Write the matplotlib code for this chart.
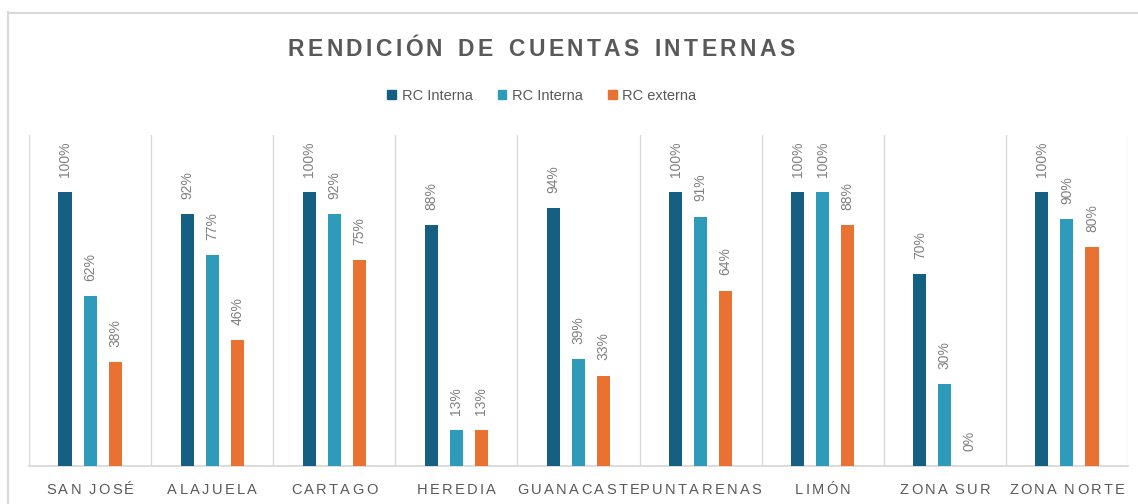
import numpy as np
import matplotlib
matplotlib.use("Agg")
import matplotlib.pyplot as plt
from matplotlib.lines import Line2D
from matplotlib.patches import Patch
from matplotlib.font_manager import FontProperties, findfont, get_font

plt.rcParams['font.family'] = ['Liberation Sans', 'DejaVu Sans']

# data
regions = ["SAN JOSÉ", "ALAJUELA", "CARTAGO", "HEREDIA", "GUANACASTE",
           "PUNTARENAS", "LIMÓN", "ZONA SUR", "ZONA NORTE"]
series_names = ["RC Interna", "RC Interna", "RC externa"]
rc_interna_1 = [100, 92, 100, 88, 94, 100, 100, 70, 100]
rc_interna_2 = [62, 77, 92, 13, 39, 91, 100, 30, 90]
rc_externa = [38, 46, 75, 13, 33, 64, 88, 0, 80]
values = [rc_interna_1, rc_interna_2, rc_externa]

colors = ['#156082', '#2E9BBA', '#E97132']
grid_c = '#D9D9D9'
text_c = '#595959'
label_c = '#808080'

W, H = 1138, 504
fig = plt.figure(figsize=(W / 100, H / 100), dpi=100)
ax = fig.add_axes([29 / W, (H - 466) / H, (1128 - 29) / W, (466 - 135) / H])

x = np.arange(len(regions))
bw = 0.107
offsets = [-0.205, 0.0, 0.205]
for i, name in enumerate(series_names):
    v = np.array(values[i]) / 100
    bars = ax.bar(x + offsets[i], v, bw, color=colors[i], label=name, zorder=3)
    for b, val in zip(bars, values[i]):
        ax.annotate(f"{val}%", (b.get_x() + b.get_width() / 2, b.get_height()),
                    xytext=(0, 11), textcoords='offset points', rotation=90,
                    ha='center', va='bottom', fontsize=10, color=label_c)

ax.set_xlim(-0.5, len(regions) - 0.5)
ax.set_ylim(0, 1.208)
for k in range(len(regions) + 1):
    ax.axvline(k - 0.5, color=grid_c, lw=1.0, zorder=1)
for s in ['top', 'right', 'left']:
    ax.spines[s].set_visible(False)
ax.spines['bottom'].set_color(grid_c)
ax.spines['bottom'].set_linewidth(1.3)
ax.set_xticks([])
ax.set_yticks([])

# outer chart frame
fig.add_artist(Line2D([7.5 / W, 7.5 / W], [0, 1 - 12 / H], color=grid_c, lw=1.5))
fig.add_artist(Line2D([7.5 / W, 1], [1 - 12.5 / H, 1 - 12.5 / H], color=grid_c, lw=1.5))


def spaced_text(xc, yc, s, track, space_scale=1.0, fontsize=10, fontweight='normal', color='k'):
    # letter-spaced text, drawn one character at a time using glyph advances
    fp = FontProperties(family='Liberation Sans', weight=fontweight, size=fontsize)
    font = get_font(findfont(fp))
    font.set_size(fontsize, 100)
    widths = []
    for ch in s:
        g = font.load_char(ord(ch))
        w = g.linearHoriAdvance / 65536
        widths.append(w * space_scale if ch == " " else w)
    total = sum(widths) + track * (len(s) - 1)
    xp = xc - total / 2
    for ch, w in zip(s, widths):
        fig.text(xp / W, 1 - yc / H, ch, ha='left', va='center', fontproperties=fp, color=color)
        xp += w + track


spaced_text(541, 49, "RENDICIÓN DE CUENTAS INTERNAS", 3.3, space_scale=1.4,
            fontsize=16.5, fontweight='bold', color=text_c)

for i, r in enumerate(regions):
    xc = 29 + (i + 0.5) * (1128 - 29) / len(regions)
    spaced_text(xc, 490, r, 2.4, space_scale=0.6, fontsize=10.5, color=text_c)

handles = [Patch(color=c) for c in colors]
fig.legend(handles, series_names, loc='center', bbox_to_anchor=(542 / W, 1 - 96 / H),
           ncol=3, frameon=False, fontsize=10.5, labelcolor=text_c,
           handlelength=0.6, handleheight=0.6, handletextpad=0.4, columnspacing=1.7)

fig.savefig("out.png", dpi=100)
